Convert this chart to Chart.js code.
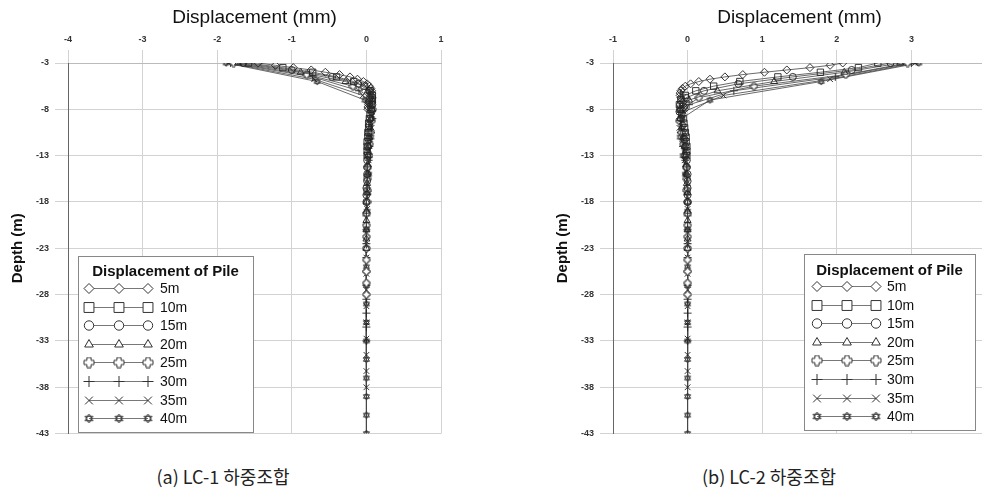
<!DOCTYPE html>
<html>
<head>
<meta charset="utf-8">
<script src="https://cdn.jsdelivr.net/npm/chart.js"></script>
<style>
  html, body { margin: 0; padding: 0; background: #fff; }
  body { width: 982px; height: 491px; overflow: hidden; position: relative; }
  .box { position: absolute; top: 0; }
  .caption {
    position: absolute; top: 463px; width: 300px; text-align: center;
    font-family: "Noto Sans CJK KR", sans-serif; font-size: 18px; color: #222;
  }
</style>
</head>
<body>
<div class="box" style="left:0;width:491px;height:445px"><canvas id="chartLC1" width="491" height="445"></canvas></div>
<div class="box" style="left:491px;width:520px;height:445px"><canvas id="chartLC2" width="520" height="445"></canvas></div>
<div class="caption" style="left:73px">(a) LC-1 하중조합</div>
<div class="caption" style="left:619px">(b) LC-2 하중조합</div>
<script>
// pile lengths (legend) and node depths of each pile (m)
const pileLabels = ["5m", "10m", "15m", "20m", "25m", "30m", "35m", "40m"];
const depth5 = [-3, -3.25, -3.5, -3.75, -4, -4.25, -4.5, -4.75, -5, -5.25, -5.5, -5.75, -6, -6.25, -6.5, -6.75, -7, -7.25, -7.5, -7.75, -8];
const depth10 = [-3, -3.5, -4, -4.5, -5, -5.5, -6, -6.5, -7, -7.5, -8, -8.5, -9, -9.5, -10, -10.5, -11, -11.5, -12, -12.5, -13];
const depth15 = [-3, -3.75, -4.5, -5.25, -6, -6.75, -7.5, -8.25, -9, -9.75, -10.5, -11.25, -12, -12.75, -13.5, -14.25, -15, -15.75, -16.5, -17.25, -18];
const depth20 = [-3, -4, -5, -6, -7, -8, -9, -10, -11, -12, -13, -14, -15, -16, -17, -18, -19, -20, -21, -22, -23];
const depth25 = [-3, -4.25, -5.5, -6.75, -8, -9.25, -10.5, -11.75, -13, -14.25, -15.5, -16.75, -18, -19.25, -20.5, -21.75, -23, -24.25, -25.5, -26.75, -28];
const depth30 = [-3, -4.5, -6, -7.5, -9, -10.5, -12, -13.5, -15, -16.5, -18, -19.5, -21, -22.5, -24, -25.5, -27, -28.5, -30, -31.5, -33];
const depth35 = [-3, -4.75, -6.5, -8.25, -10, -11.75, -13.5, -15.25, -17, -18.75, -20.5, -22.25, -24, -25.75, -27.5, -29.25, -31, -32.75, -34.5, -36.25, -38];
const depth40 = [-3, -5, -7, -9, -11, -13, -15, -17, -19, -21, -23, -25, -27, -29, -31, -33, -35, -37, -39, -41, -43];

// LC-1 displacement (mm)
const lc1Disp5 = [-1.45, -1.22, -0.98, -0.74, -0.55, -0.36, -0.22, -0.12, -0.04, 0.01, 0.04, 0.06, 0.07, 0.07, 0.06, 0.05, 0.04, 0.03, 0.03, 0.02, 0.02];
const lc1Disp10 = [-1.58, -1.12, -0.72, -0.40, -0.17, -0.03, 0.05, 0.08, 0.08, 0.07, 0.06, 0.05, 0.04, 0.03, 0.03, 0.02, 0.02, 0.01, 0.01, 0.01, 0.01];
const lc1Disp15 = [-1.65, -1.00, -0.46, -0.11, 0.04, 0.08, 0.08, 0.07, 0.05, 0.04, 0.03, 0.03, 0.02, 0.02, 0.01, 0.01, 0.01, 0.01, 0, 0, 0];
const lc1Disp20 = [-1.72, -0.88, -0.28, 0.02, 0.08, 0.08, 0.06, 0.05, 0.04, 0.03, 0.02, 0.02, 0.01, 0.01, 0.01, 0, 0, 0, 0, 0, 0];
const lc1Disp25 = [-1.78, -0.80, -0.18, 0.05, 0.08, 0.07, 0.05, 0.04, 0.03, 0.02, 0.01, 0.01, 0.01, 0, 0, 0, 0, 0, 0, 0, 0];
const lc1Disp30 = [-1.82, -0.72, -0.10, 0.06, 0.08, 0.06, 0.04, 0.03, 0.02, 0.01, 0.01, 0, 0, 0, 0, 0, 0, 0, 0, 0, 0];
const lc1Disp35 = [-1.85, -0.70, -0.05, 0.07, 0.07, 0.05, 0.03, 0.02, 0.01, 0.01, 0, 0, 0, 0, 0, 0, 0, 0, 0, 0, 0];
const lc1Disp40 = [-1.88, -0.66, -0.02, 0.07, 0.06, 0.04, 0.03, 0.02, 0.01, 0, 0, 0, 0, 0, 0, 0, 0, 0, 0, 0, 0];

// LC-2 displacement (mm)
const lc2Disp5 = [2.08, 1.91, 1.64, 1.33, 1.03, 0.74, 0.50, 0.30, 0.15, 0.04, -0.03, -0.07, -0.09, -0.10, -0.10, -0.09, -0.08, -0.07, -0.06, -0.05, -0.04];
const lc2Disp10 = [2.55, 2.29, 1.78, 1.21, 0.70, 0.35, 0.11, -0.03, -0.09, -0.11, -0.10, -0.08, -0.06, -0.05, -0.04, -0.03, -0.02, -0.02, -0.01, -0.01, -0.01];
const lc2Disp15 = [2.72, 2.20, 1.41, 0.68, 0.22, -0.02, -0.10, -0.11, -0.09, -0.07, -0.05, -0.04, -0.03, -0.02, -0.01, -0.01, 0, 0, 0, 0, 0];
const lc2Disp20 = [2.85, 2.10, 1.16, 0.40, 0.02, -0.10, -0.10, -0.08, -0.06, -0.04, -0.03, -0.02, -0.01, -0.01, 0, 0, 0, 0, 0, 0, 0];
const lc2Disp25 = [2.95, 2.12, 0.89, 0.15, -0.08, -0.11, -0.08, -0.05, -0.03, -0.02, -0.01, -0.01, 0, 0, 0, 0, 0, 0, 0, 0, 0];
const lc2Disp30 = [3.00, 1.98, 0.62, 0.02, -0.10, -0.09, -0.06, -0.03, -0.02, -0.01, 0, 0, 0, 0, 0, 0, 0, 0, 0, 0, 0];
const lc2Disp35 = [3.05, 1.91, 0.48, -0.05, -0.11, -0.07, -0.04, -0.02, -0.01, 0, 0, 0, 0, 0, 0, 0, 0, 0, 0, 0, 0];
const lc2Disp40 = [3.10, 1.79, 0.30, -0.08, -0.10, -0.06, -0.03, -0.01, 0, 0, 0, 0, 0, 0, 0, 0, 0, 0, 0, 0, 0];

// tick labels
const depthTicks = [-3, -8, -13, -18, -23, -28, -33, -38, -43];
const xTicksLC1 = [-4, -3, -2, -1, 0, 1];
const xTicksLC2 = [-1, 0, 1, 2, 3, 4];
const legendTitle = "Displacement of Pile";

const allDepths = [depth5, depth10, depth15, depth20, depth25, depth30, depth35, depth40];
const lc1Disps = [lc1Disp5, lc1Disp10, lc1Disp15, lc1Disp20, lc1Disp25, lc1Disp30, lc1Disp35, lc1Disp40];
const lc2Disps = [lc2Disp5, lc2Disp10, lc2Disp15, lc2Disp20, lc2Disp25, lc2Disp30, lc2Disp35, lc2Disp40];

const FONT = "'Liberation Sans', Arial, sans-serif";

// small canvas markers for the shapes chart.js does not have
function makeMarker(size, drawFn) {
  const c = document.createElement("canvas");
  c.width = size;
  c.height = size;
  const g = c.getContext("2d");
  g.strokeStyle = "#333";
  g.lineWidth = 1;
  g.translate(size / 2, size / 2);
  drawFn(g, size / 2 - 1);
  return c;
}
function fatPlus(g, r) {
  const a = r * 0.42;
  const pts = [[-a, -r], [a, -r], [a, -a], [r, -a], [r, a], [a, a], [a, r], [-a, r], [-a, a], [-r, a], [-r, -a], [-a, -a]];
  g.beginPath();
  pts.forEach((p, i) => (i ? g.lineTo(p[0], p[1]) : g.moveTo(p[0], p[1])));
  g.closePath();
  g.fillStyle = "#fff";
  g.fill();
  g.stroke();
}
function hexagram(g, r) {
  [-90, 90].forEach((start) => {
    g.beginPath();
    for (let k = 0; k < 3; k++) {
      const t = ((start + k * 120) * Math.PI) / 180;
      k ? g.lineTo(r * Math.cos(t), r * Math.sin(t)) : g.moveTo(r * Math.cos(t), r * Math.sin(t));
    }
    g.closePath();
    g.stroke();
  });
}

const plotStyles = ["rectRot", "rect", "circle", "triangle", makeMarker(9, fatPlus), "cross", "crossRot", makeMarker(9, hexagram)];
const plotRadius = [4, 4.5, 3.5, 4, 4, 4, 4, 4];
const legendStyles = ["rectRot", "rect", "circle", "triangle", makeMarker(12, fatPlus), "cross", "crossRot", makeMarker(11, hexagram)];
const legendRadius = [5, 7, 4.7, 5, 5, 5.5, 5.5, 5];

const pileLegend = {
  id: "pileLegend",
  afterDraw(chart, args, opts) {
    const ctx = chart.ctx;
    ctx.save();
    ctx.fillStyle = "#fff";
    ctx.fillRect(opts.x, opts.y, opts.w, opts.h);
    ctx.strokeStyle = "#888";
    ctx.lineWidth = 1;
    ctx.strokeRect(opts.x + 0.5, opts.y + 0.5, opts.w, opts.h);
    ctx.fillStyle = "#111";
    ctx.font = "bold 15px " + FONT;
    ctx.textAlign = "center";
    ctx.textBaseline = "middle";
    ctx.fillText(legendTitle, opts.x + opts.w / 2, opts.titleY);
    pileLabels.forEach((label, i) => {
      const y = Math.round(opts.rowY + i * opts.rowGap) + 0.5;
      ctx.strokeStyle = "#555";
      ctx.lineWidth = 0.8;
      ctx.beginPath();
      ctx.moveTo(opts.markX[0], y);
      ctx.lineTo(opts.markX[2], y);
      ctx.stroke();
      ctx.strokeStyle = "#333";
      ctx.fillStyle = "#fff";
      ctx.lineWidth = 1;
      opts.markX.forEach((mx) => {
        Chart.helpers.drawPoint(ctx, { pointStyle: legendStyles[i], radius: legendRadius[i], borderWidth: 1, rotation: 0 }, mx, y);
      });
      ctx.fillStyle = "#111";
      ctx.font = "14px " + FONT;
      ctx.textAlign = "left";
      ctx.fillText(label, opts.textX, y + 1);
    });
    ctx.restore();
  },
};

function buildDatasets(disps) {
  return pileLabels.map((label, i) => ({
    label: label,
    data: allDepths[i].map((d, k) => ({ x: disps[i][k], y: d })),
    showLine: true,
    borderColor: "#444",
    borderWidth: 0.8,
    pointStyle: plotStyles[i],
    pointRadius: plotRadius[i],
    pointBorderColor: "#222",
    pointBorderWidth: 0.9,
    pointBackgroundColor: "rgba(255,255,255,0)",
  }));
}

function designChart(canvasId, disps, xTicks, padding, legendOpts) {
  const ctx = document.getElementById(canvasId).getContext("2d");
  return new Chart(ctx, {
    type: "scatter",
    data: { datasets: buildDatasets(disps) },
    options: {
      responsive: false,
      animation: false,
      layout: { padding: padding },
      scales: {
        x: {
          type: "linear",
          position: "top",
          min: xTicks[0],
          max: xTicks[xTicks.length - 1],
          afterBuildTicks: (s) => { s.ticks = xTicks.map((v) => ({ value: v })); },
          afterFit: (s) => { s.height = 63; },
          title: {
            display: true,
            text: "Displacement (mm)",
            color: "#111",
            font: { family: FONT, size: 19 },
            padding: { top: 6, bottom: 0 },
          },
          ticks: { color: "#333", padding: 5, font: { family: FONT, size: 9, weight: "bold" } },
          grid: { color: "#d2d2d2", lineWidth: 1, tickLength: 13 },
          border: { color: "#bbb" },
        },
        y: {
          type: "linear",
          min: -43,
          max: -3,
          afterBuildTicks: (s) => { s.ticks = depthTicks.map((v) => ({ value: v })); },
          afterFit: (s) => { s.width = 68; },
          title: {
            display: true,
            text: "Depth (m)",
            color: "#111",
            font: { family: FONT, size: 15, weight: "bold" },
            padding: { top: 9, bottom: 0 },
          },
          ticks: { color: "#333", padding: 6, font: { family: FONT, size: 9, weight: "bold" } },
          grid: { color: "#d2d2d2", lineWidth: 1, tickLength: 13 },
          border: { color: "#666" },
        },
      },
      plugins: {
        legend: { display: false },
        tooltip: { enabled: false },
        pileLegend: legendOpts,
      },
    },
    plugins: [pileLegend],
  });
}

designChart("chartLC1", lc1Disps, xTicksLC1, { left: 0, right: 50, top: 0, bottom: 7 },
  { x: 78, y: 256, w: 175, h: 176, titleY: 272, rowY: 288, rowGap: 18.6, markX: [89, 119, 148], textX: 160 });
designChart("chartLC2", lc2Disps, xTicksLC2, { left: 54, right: 25, top: 0, bottom: 7 },
  { x: 313, y: 254, w: 171, h: 176, titleY: 271, rowY: 286, rowGap: 18.6, markX: [326, 356, 385], textX: 396 });
</script>
</body>
</html>
